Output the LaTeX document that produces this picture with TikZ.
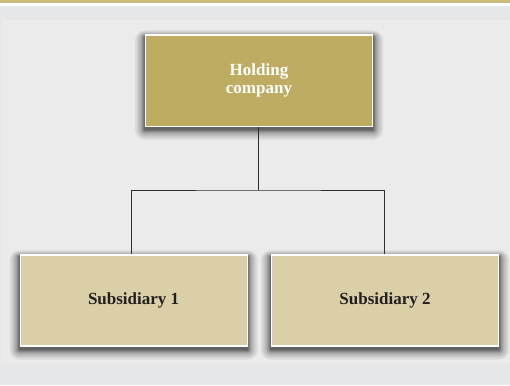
\documentclass[tikz,border=0pt]{standalone}
\usepackage{fontspec}
\setmainfont{Liberation Serif}
\usetikzlibrary{backgrounds}
\definecolor{goldbar}{HTML}{CBBB7C}
\definecolor{holdfill}{HTML}{BDAC62}
\definecolor{subfill}{HTML}{DBCFA8}
\definecolor{bgout}{HTML}{E6E7E8}
\definecolor{bgin}{HTML}{EBEBEB}
\definecolor{darktext}{HTML}{231F20}
\definecolor{linecol}{HTML}{2E2E2E}
\tikzset{
  box/.style={draw=white, line width=1.2pt, minimum width=227pt, minimum height=91pt,
    inner sep=0pt, align=center, font=\fontsize{17}{17.5}\selectfont\bfseries},
  holdbox/.style={box, fill=holdfill, text=white},
  subbox/.style={box, fill=subfill, text=darktext},
  conn/.style={draw=linecol, line width=1pt},
  shadowlayer/.style={fill=black, opacity=0.065}
}
\begin{document}
\begin{tikzpicture}[x=1pt,y=-1pt]
\useasboundingbox (0,0) rectangle (510,385);
\node[holdbox] (hold) at (259,80.6) {Holding\\company};
\node[subbox] (sub1) at (133.6,300.5) {Subsidiary 1};
\node[subbox] (sub2) at (385,300.5) {Subsidiary 2};
\begin{scope}[on background layer]
  \fill[bgout] (0,0) rectangle (510,385);
  \fill[bgin] (2,20) rectangle (510,363);
  \fill[goldbar] (0,0) rectangle (510,3.2);
  \fill[white] (0,3.2) rectangle (510,5.6);
  \foreach \n in {hold,sub1,sub2}{
    \foreach \r in {0,0.5,1,1.5,2,2.5,3,4,5,6.5,8,10}{
      \fill[shadowlayer, rounded corners=\r pt]
        ([xshift=-\r pt, yshift={0.6*\r pt-2pt}]\n.north west) rectangle
        ([xshift=\r pt, yshift={-\r pt-3pt}]\n.south east);
    }
  }
\end{scope}
\coordinate (junc) at (258.7,190);
\draw[conn] (hold.south -| junc) -- (junc);
\draw[conn] (sub1.north -| 131.7,0) |- (junc) -| (sub2.north -| 384.3,0);
\end{tikzpicture}
\end{document}
